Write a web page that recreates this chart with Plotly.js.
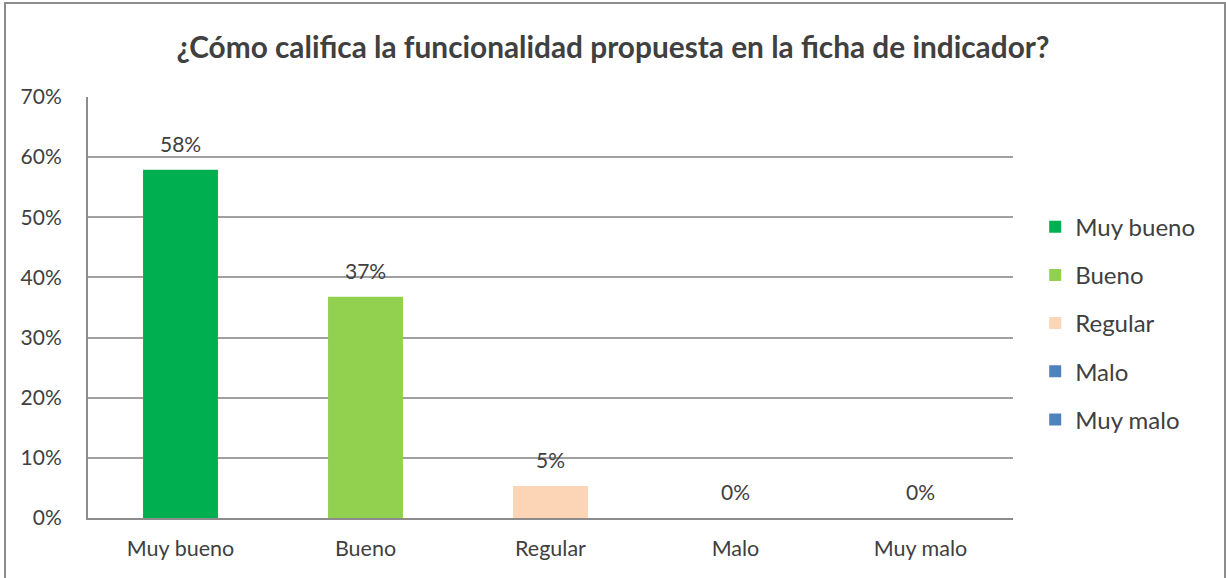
<!DOCTYPE html>
<html>
<head>
<meta charset="utf-8">
<script src="https://cdn.plot.ly/plotly-3.0.1.min.js"></script>
<style>
  body { margin: 0; background: #fff; }
  #frame { position: absolute; left: 4px; top: 2px; width: 1218px; height: 600px; border: 2px solid #8c8c8c; }
  #chart { position: absolute; left: -6px; top: -4px; width: 1226px; height: 578px; }
</style>
</head>
<body>
<div id="frame"><div id="chart"></div></div>
<script>
// survey answers, share of respondents
var categories = ['Muy bueno', 'Bueno', 'Regular', 'Malo', 'Muy malo']
var shares = [0.579, 0.368, 0.053, 0, 0]
var colors = ['#00b050', '#92d050', '#fbd5b5', '#4f81bd', '#4f81bd']

var fontFam = 'Lato, "Open Sans", sans-serif'
var textColor = '#404040'

var data = categories.map(function (c, i) {
    return {
        type: 'bar',
        x: [c],
        y: [shares[i]],
        name: c,
        legendgroup: c,
        width: 0.405,
        marker: { color: colors[i] },
        hoverinfo: 'skip'
    }
})

// data labels above each bar
var labels = categories.map(function (c, i) {
    return {
        x: c,
        y: shares[i],
        text: Math.round(shares[i] * 100) + '%',
        showarrow: false,
        yanchor: 'bottom',
        yshift: 12,
        font: { family: fontFam, size: 21, color: textColor }
    }
})

var layout = {
    width: 1226,
    height: 578,
    margin: { l: 88, r: 213, t: 97, b: 60 },
    paper_bgcolor: 'rgba(0,0,0,0)',
    plot_bgcolor: '#fff',
    barmode: 'overlay',
    showlegend: true,
    title: {
        text: '<b>¿Cómo califica la funcionalidad propuesta en la ficha de indicador?</b>',
        x: 0.5,
        xref: 'container',
        y: 0.918,
        yref: 'container',
        yanchor: 'middle',
        font: { family: fontFam, size: 29.8, color: textColor }
    },
    xaxis: {
        type: 'category',
        categoryorder: 'array',
        categoryarray: categories,
        showline: true,
        linecolor: '#8c8c8c',
        linewidth: 2,
        ticks: '',
        tickfont: { family: fontFam, size: 21.5, color: textColor },
        ticklabelstandoff: 10
    },
    yaxis: {
        range: [0, 0.7],
        dtick: 0.1,
        tickformat: '.0%',
        showline: true,
        linecolor: '#8c8c8c',
        linewidth: 2,
        showgrid: true,
        gridcolor: '#a0a0a0',
        gridwidth: 2,
        zeroline: false,
        ticks: '',
        tickfont: { family: fontFam, size: 21, color: textColor },
        ticklabelstandoff: 20
    },
    legend: {
        x: 1.024,
        xanchor: 'left',
        y: 0.463,
        yanchor: 'middle',
        traceorder: 'grouped',
        tracegroupgap: 14,
        itemwidth: 30,
        font: { family: fontFam, size: 24, color: textColor },
        bgcolor: 'rgba(0,0,0,0)'
    },
    annotations: labels
}

Plotly.newPlot('chart', data, layout, { displayModeBar: false, staticPlot: true })
</script>
</body>
</html>
